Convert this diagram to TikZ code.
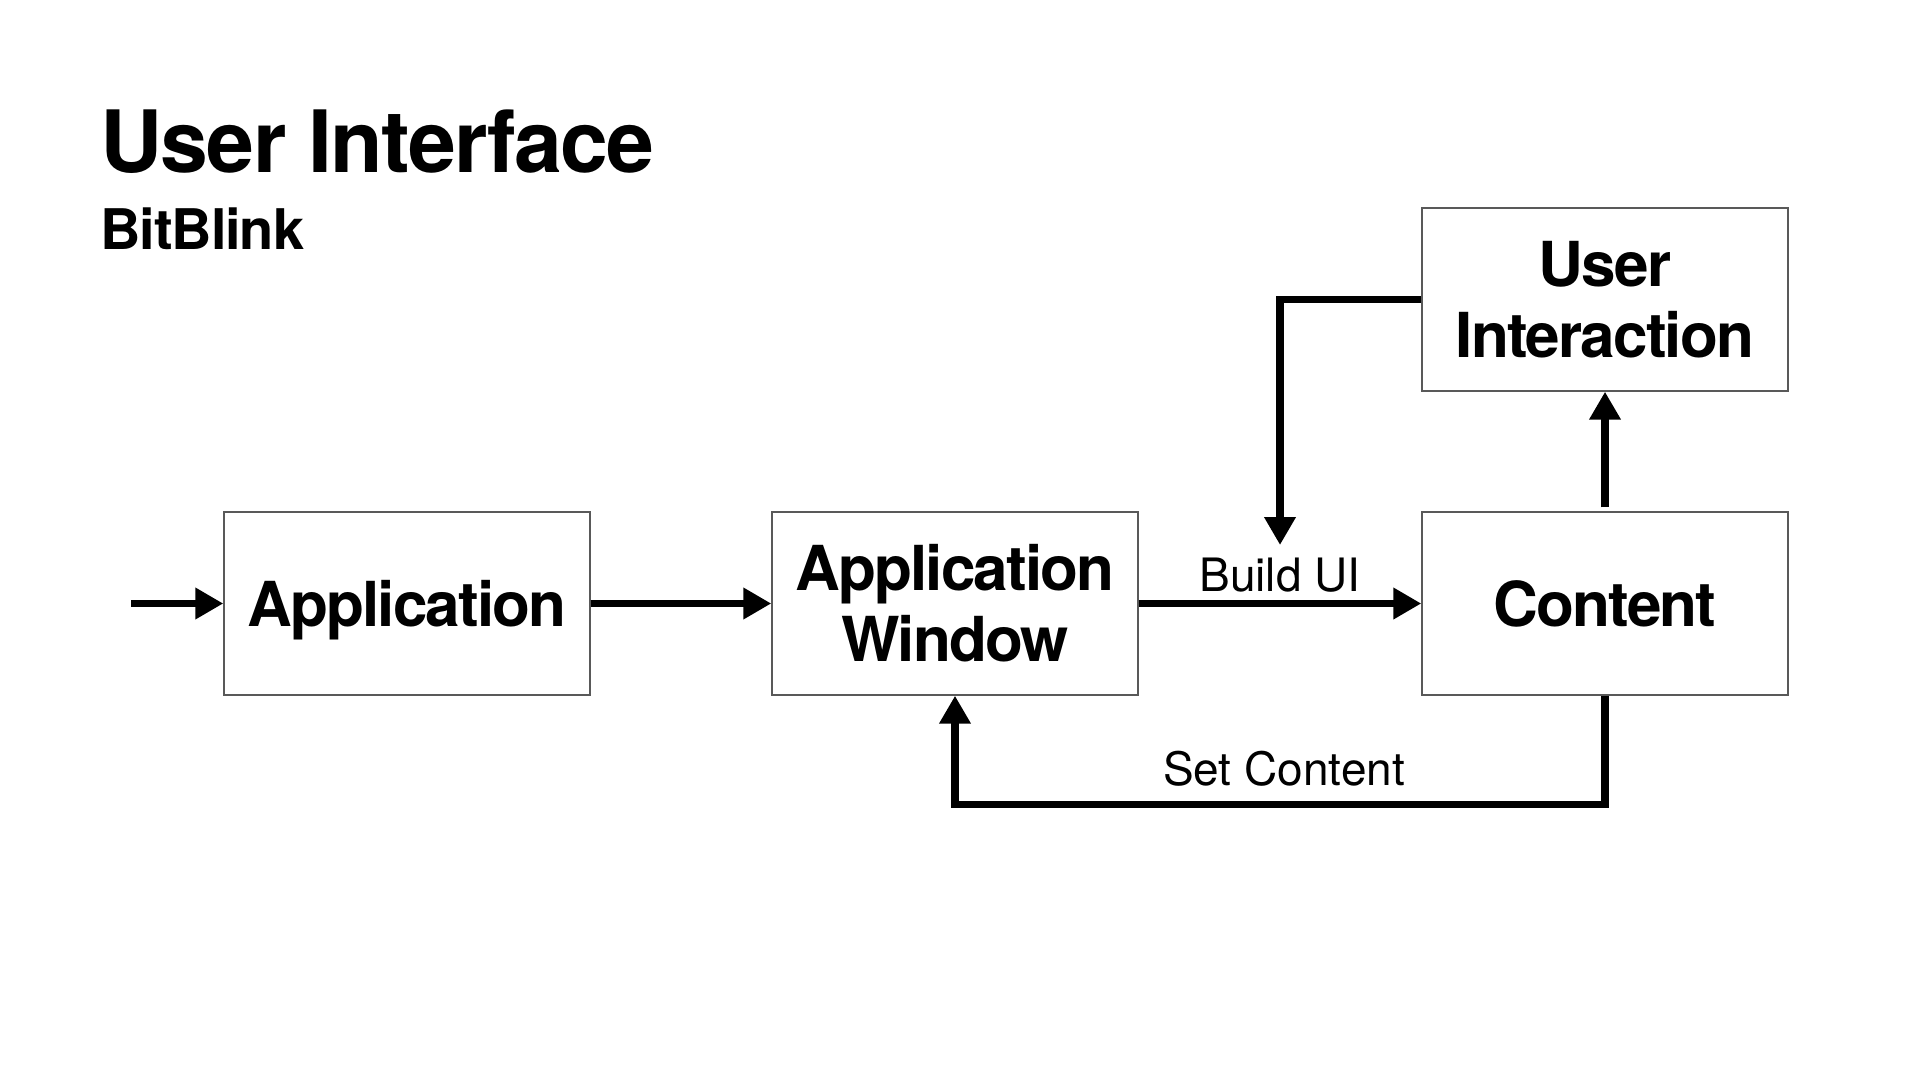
\documentclass[tikz,border=0pt]{standalone}
\usepackage{fontspec}
\setmainfont{TeX Gyre Heros}
\newfontfamily\boxfont[LetterSpace=-3]{TeX Gyre Heros}
\newfontfamily\titlefont[LetterSpace=-2]{TeX Gyre Heros}
\usetikzlibrary{arrows.meta}
\begin{document}
\begin{tikzpicture}[x=0.5pt,y=-0.5pt,
  box/.style={draw=black!65, line width=0.7pt, minimum width=183pt, minimum height=91.5pt,
    inner sep=0pt, align=center, font=\boxfont\fontsize{31}{35.5}\selectfont\bfseries},
  onebox/.style={box, text depth=0pt},
  conn/.style={line width=3.6pt, -{Triangle[length=14pt,width=15pt]}},
  lbl/.style={font=\fontsize{23}{26}\selectfont, anchor=base, inner sep=0pt}]
\useasboundingbox[fill=white] (0,0) rectangle (1920,1080);
% titles
\node[anchor=base west, inner sep=0pt, font=\titlefont\fontsize{43}{48}\selectfont\bfseries] (title) at (100,173) {User Interface};
\node[anchor=base west, inner sep=0pt, font=\titlefont\fontsize{28}{32}\selectfont\bfseries] (sub) at (100,250) {BitBlink};
% boxes
\node[onebox] (app) at (407,603.5) {Application};
\node[box] (win) at (955,603.5) {Application\\Window};
\node[onebox] (cont) at (1605,603.5) {Content};
\node[box] (ui) at (1605,299.5) {User\\Interaction};
% connectors
\coordinate (start) at (131,603.5);
\coordinate (buildtip) at (1280,545);
\draw[conn] (start) -- (app.west);
\draw[conn] (app.east) -- (win.west);
\draw[conn] (win.east) -- (cont.west);
\node[lbl] (buildlbl) at (1280,591) {Build UI};
\draw[conn] ([yshift=2pt]cont.north) -- (ui.south);
\draw[conn] (ui.west) -| (buildtip);
\draw[conn] (cont.south) -- ++(0,109) -| (win.south);
\node[lbl] (setlbl) at (1284,785) {Set Content};
\end{tikzpicture}
\end{document}
